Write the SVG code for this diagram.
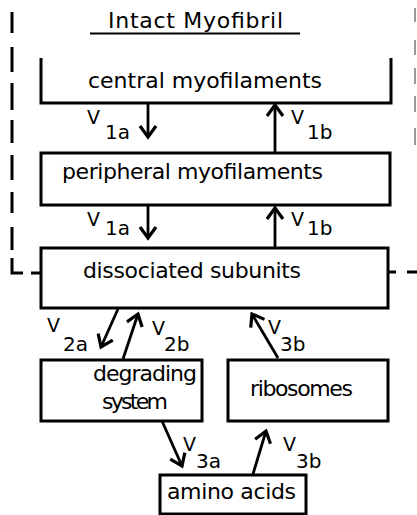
<svg xmlns="http://www.w3.org/2000/svg" width="417" height="515" viewBox="0 0 417 515">
<style>
  .box { fill: none; stroke: #000; stroke-width: 3; stroke-linejoin: miter; }
  .t { font-family: "DejaVu Sans", "Liberation Sans", sans-serif; font-size: 22px; fill: #000; }
  .title { font-family: "DejaVu Sans", "Liberation Sans", sans-serif; font-size: 22px; fill: #000; }
  .v { font-family: "DejaVu Sans", "Liberation Sans", sans-serif; font-size: 19px; fill: #000; }
  .s { font-family: "DejaVu Sans", "Liberation Sans", sans-serif; font-size: 20px; fill: #000; }
  .arr { fill: none; stroke: #000; stroke-width: 2.8; marker-end: url(#head); }
  .dash { fill: none; stroke: #000; stroke-width: 3; }
  .faint { fill: none; stroke: #9a9a9a; stroke-width: 2; }
</style>
<defs>
  <marker id="head" markerUnits="userSpaceOnUse" markerWidth="30" markerHeight="30" refX="0" refY="0" viewBox="-15 -15 30 30" orient="auto" overflow="visible">
    <path d="M -11 -8 L 0 0 L -11 8" fill="none" stroke="#000" stroke-width="3.2" stroke-linejoin="miter"/>
  </marker>
</defs>
<rect width="417" height="515" fill="#fff"/>

<g id="boundary">
  <path class="dash" d="M12 12V33 M12 47V72 M12 83V110 M12 120V143 M12 155V180 M12 192V213 M12 227V250 M12 258V273H23 M31 273H41"/>
  <path class="dash" d="M388 272H396 M407 272H417"/>
  <path class="faint" d="M415 8V22 M415 40V55 M415 68V84 M415 96V112 M415 128V145"/>
</g>

<g id="title">
  <text class="title" x="108" y="28" textLength="175" lengthAdjust="spacing">Intact Myofibril</text>
  <line x1="90" y1="33.5" x2="300" y2="33.5" stroke="#000" stroke-width="2"/>
</g>

<g id="central">
  <path class="box" d="M41 58V103H391V58"/>
  <text class="t" x="88" y="88" textLength="234" lengthAdjust="spacing">central myofilaments</text>
</g>

<g id="peripheral">
  <rect class="box" x="41" y="153" width="349" height="52"/>
  <text class="t" x="62" y="179" textLength="261" lengthAdjust="spacing">peripheral myofilaments</text>
</g>

<g id="dissociated">
  <rect class="box" x="41" y="248" width="347" height="60"/>
  <text class="t" x="83" y="278" textLength="218" lengthAdjust="spacing">dissociated subunits</text>
</g>

<g id="degrading">
  <rect class="box" x="41" y="360" width="161" height="61"/>
  <text class="t" x="93" y="381" textLength="104" lengthAdjust="spacing">degrading</text>
  <text class="t" x="102" y="409" textLength="66" lengthAdjust="spacing">system</text>
</g>

<g id="ribosomes">
  <rect class="box" x="228" y="360" width="160" height="61"/>
  <text class="t" x="250" y="396" textLength="103" lengthAdjust="spacing">ribosomes</text>
</g>

<g id="amino">
  <rect class="box" x="160" y="475" width="146" height="39"/>
  <text class="t" x="167" y="499" textLength="129" lengthAdjust="spacing">amino acids</text>
</g>

<g id="connectors">
  <line class="arr" x1="148" y1="104" x2="148" y2="137"/>
  <line class="arr" x1="275" y1="152" x2="275" y2="105"/>
  <line class="arr" x1="148" y1="206" x2="148" y2="238"/>
  <line class="arr" x1="275" y1="247" x2="275" y2="208"/>
  <line class="arr" x1="118" y1="309" x2="101" y2="347"/>
  <line class="arr" x1="123" y1="359" x2="138" y2="314"/>
  <line class="arr" x1="278" y1="358" x2="252" y2="314"/>
  <line class="arr" x1="162" y1="421" x2="182" y2="466"/>
  <line class="arr" x1="253" y1="474" x2="266" y2="431"/>
</g>

<g id="labels">
  <text class="v" x="87" y="124">V</text><text class="s" x="105" y="139">1a</text>
  <text class="v" x="291" y="124">V</text><text class="s" x="307" y="139">1b</text>
  <text class="v" x="87" y="226">V</text><text class="s" x="105" y="235">1a</text>
  <text class="v" x="291" y="226">V</text><text class="s" x="307" y="235">1b</text>
  <text class="v" x="47" y="332">V</text><text class="s" x="63" y="351">2a</text>
  <text class="v" x="152" y="335">V</text><text class="s" x="164" y="351">2b</text>
  <text class="v" x="268" y="334">V</text><text class="s" x="280" y="351">3b</text>
  <text class="v" x="183" y="451">V</text><text class="s" x="196" y="468">3a</text>
  <text class="v" x="283" y="451">V</text><text class="s" x="296" y="468">3b</text>
</g>
</svg>
